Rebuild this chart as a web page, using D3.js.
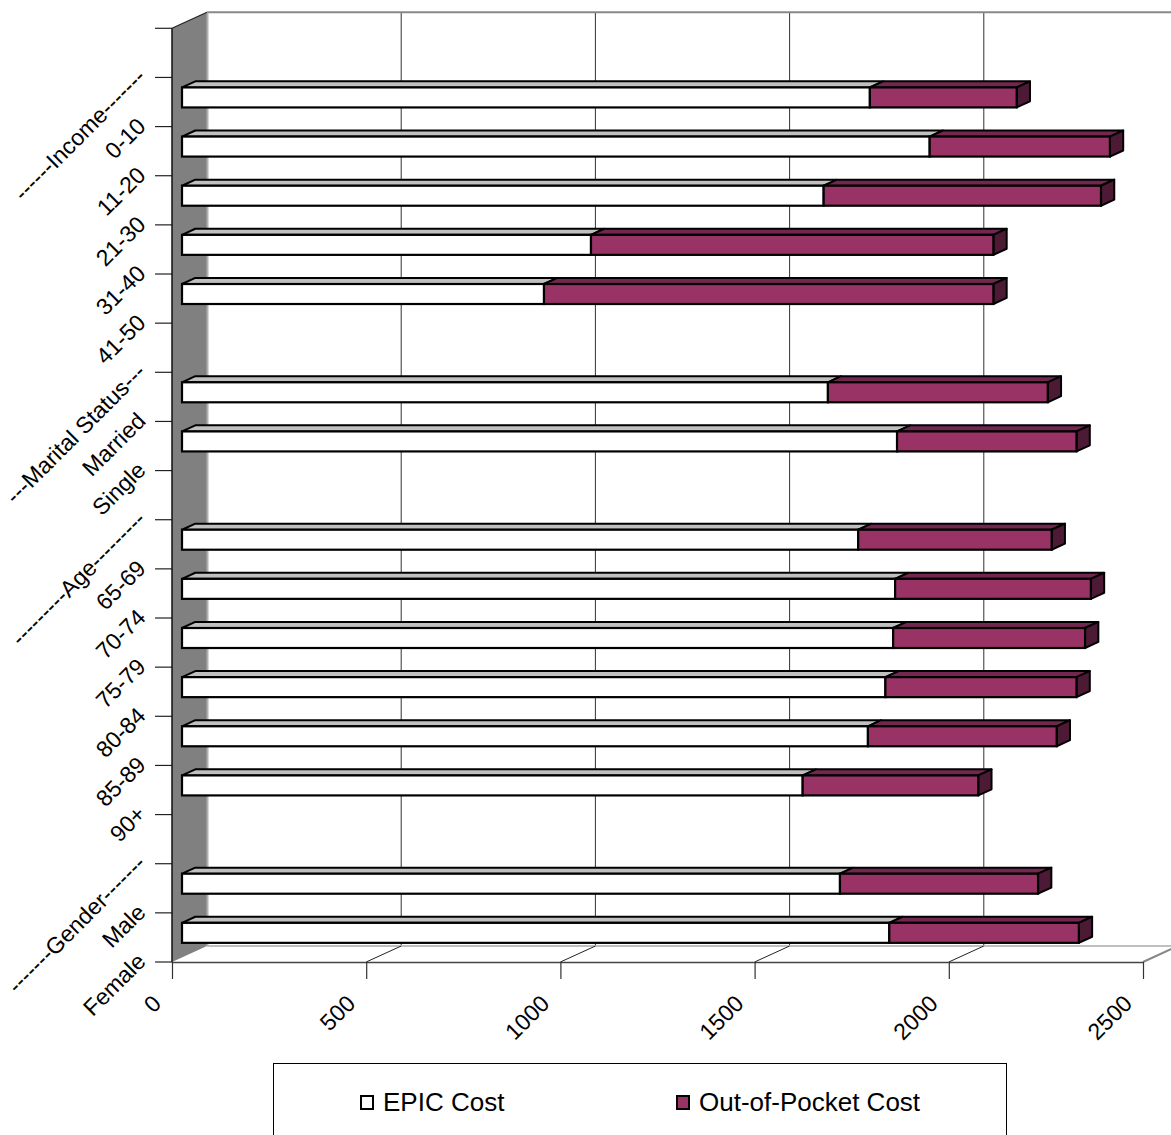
<!DOCTYPE html>
<html>
<head>
<meta charset="utf-8">
<script src="https://cdn.jsdelivr.net/npm/d3@7"></script>
<style>
  html, body { margin: 0; padding: 0; background: #fff; }
  svg { display: block; font-family: "Liberation Sans", Arial, sans-serif; }
</style>
</head>
<body>
<svg id="chart" width="1171" height="1135"></svg>
<script>
// Categories, listed top to bottom; group headers carry no values
const categories = [
  "------Income-------", "0-10", "11-20", "21-30", "31-40", "41-50",
  "---Marital Status---", "Married", "Single",
  "---------Age---------", "65-69", "70-74", "75-79", "80-84", "85-89", "90+",
  "-------Gender-------", "Male", "Female"
];
const epicCost = [null, 1771, 1925, 1652, 1053, 932, null, 1663, 1841, null, 1741, 1836, 1831, 1811, 1766, 1598, null, 1694, 1821];
const outOfPocketCost = [null, 378, 464, 714, 1036, 1157, null, 566, 462, null, 498, 504, 494, 492, 486, 452, null, 510, 488];
const xTicks = [0, 500, 1000, 1500, 2000, 2500];
const seriesNames = ["EPIC Cost", "Out-of-Pocket Cost"];

const svg = d3.select("#chart");

// front plane scales
const x = d3.scaleLinear().domain([0, 2500]).range([172, 1143]);
const y = d3.scaleBand().domain(categories).range([28.3, 962]);

// oblique depth vector of the 3-D box
const DX = 35, DY = -16;
const proj = (v, yy, d) => [x(v) + d * DX, yy + d * DY];
const pts = arr => arr.map(p => p.join(",")).join(" ");

const yTop = y.range()[0], yBot = y.range()[1];
const labelSize = 23;

// back wall
svg.append("polygon")
  .attr("points", pts([proj(0, yTop, 1), proj(2500, yTop, 1), proj(2500, yBot, 1), proj(0, yBot, 1)]))
  .attr("fill", "#fff").attr("stroke", "none");

// vertical gridlines on the back wall
svg.append("g").selectAll("line").data(xTicks.slice(1)).join("line")
  .attr("x1", d => proj(d, yTop, 1)[0]).attr("y1", proj(0, yTop, 1)[1])
  .attr("x2", d => proj(d, yBot, 1)[0]).attr("y2", proj(0, yBot, 1)[1])
  .attr("stroke", "#333").attr("stroke-width", 1);

// back wall top edge
svg.append("line")
  .attr("x1", proj(0, yTop, 1)[0]).attr("y1", proj(0, yTop, 1)[1])
  .attr("x2", proj(2500, yTop, 1)[0] + 10).attr("y2", proj(0, yTop, 1)[1])
  .attr("stroke", "#888").attr("stroke-width", 2);

// floor
svg.append("polygon")
  .attr("points", pts([proj(0, yBot, 0), proj(0, yBot, 1), proj(2500, yBot, 1), proj(2500, yBot, 0)]))
  .attr("fill", "#fff").attr("stroke", "none");
svg.append("line")
  .attr("x1", proj(0, yBot, 1)[0]).attr("y1", proj(0, yBot, 1)[1])
  .attr("x2", proj(2500, yBot, 1)[0]).attr("y2", proj(2500, yBot, 1)[1])
  .attr("stroke", "#c0c0c0").attr("stroke-width", 2);
svg.append("g").selectAll("line").data(xTicks.slice(1, -1)).join("line")
  .attr("x1", d => proj(d, yBot, 0)[0]).attr("y1", yBot)
  .attr("x2", d => proj(d, yBot, 1)[0]).attr("y2", proj(0, yBot, 1)[1])
  .attr("stroke", "#222").attr("stroke-width", 1);
svg.append("line")
  .attr("x1", proj(2500, yBot, 0)[0]).attr("y1", yBot)
  .attr("x2", proj(2500, yBot, 1.4)[0]).attr("y2", proj(2500, yBot, 1.4)[1])
  .attr("stroke", "#888").attr("stroke-width", 2);

// left side wall
svg.append("polygon")
  .attr("points", pts([proj(0, yTop, 0), proj(0, yTop, 1), proj(0, yBot, 1), proj(0, yBot, 0)]))
  .attr("fill", "#808080").attr("stroke", "none");
svg.append("line")
  .attr("x1", proj(0, yTop, 1)[0] + 0.5).attr("y1", proj(0, yTop, 1)[1])
  .attr("x2", proj(0, yBot, 1)[0] + 0.5).attr("y2", proj(0, yBot, 1)[1])
  .attr("stroke", "#b0b0b0").attr("stroke-width", 2);
svg.append("line")
  .attr("x1", proj(0, yTop, 0)[0]).attr("y1", yTop)
  .attr("x2", proj(0, yTop, 1)[0]).attr("y2", proj(0, yTop, 1)[1])
  .attr("stroke", "#222").attr("stroke-width", 1.2);

// category axis: ticks on band boundaries
const yBounds = categories.map(c => y(c)).concat([yBot]);
svg.append("g").selectAll("line").data(yBounds).join("line")
  .attr("x1", x(0) - 17).attr("x2", x(0))
  .attr("y1", d => d).attr("y2", d => d)
  .attr("stroke", "#222").attr("stroke-width", 1.2);
svg.append("line")
  .attr("x1", x(0)).attr("x2", x(0)).attr("y1", yTop).attr("y2", yBot)
  .attr("stroke", "#111").attr("stroke-width", 1.5);

svg.append("g").selectAll("text").data(categories).join("text")
  .attr("text-anchor", "end")
  .attr("font-size", labelSize)
  .attr("fill", "#000")
  .attr("transform", c => `translate(${x(0) - 25},${y(c) + y.bandwidth() + 1}) rotate(-45)`)
  .text(c => c);

// value axis along the front floor edge
const xAxis = d3.axisBottom(x).tickValues(xTicks).tickSize(17).tickSizeOuter(0).tickFormat(d3.format("d"));
const gx = svg.append("g").attr("transform", `translate(0,${yBot})`).call(xAxis);
gx.select(".domain").attr("stroke", "#444").attr("stroke-width", 1.5);
gx.selectAll(".tick line").attr("stroke", "#333").attr("stroke-width", 1.2);
gx.selectAll(".tick text")
  .attr("x", null).attr("y", null).attr("dy", null)
  .attr("text-anchor", "end")
  .attr("font-size", labelSize)
  .attr("font-family", "Liberation Sans, Arial, sans-serif")
  .attr("fill", "#000")
  .attr("transform", "translate(-10,43) rotate(-45)");

// stacked 3-D bars
const barFront = 0.286, barDepth = 0.38, barHalf = 10;
const colors = [
  { front: "#ffffff", top: "#c0c0c0", side: "#808080" },
  { front: "#993366", top: "#732650", side: "#4d1a36" }
];
const rows = categories.map((c, i) => ({ c, vals: [epicCost[i], outOfPocketCost[i]] }))
  .filter(r => r.vals[0] != null);

const barG = svg.append("g");
rows.forEach(r => {
  const yc = y(r.c) + y.bandwidth() / 2;
  let v0 = 0;
  const segs = r.vals.map((v, k) => { const s = { v0, v1: v0 + v, k }; v0 += v; return s; });
  const g = barG.append("g");
  segs.forEach(s => {
    const col = colors[s.k];
    g.append("polygon")
      .attr("points", pts([proj(s.v0, yc - barHalf, barFront), proj(s.v1, yc - barHalf, barFront),
                           proj(s.v1, yc - barHalf, barFront + barDepth), proj(s.v0, yc - barHalf, barFront + barDepth)]))
      .attr("fill", col.top).attr("stroke", "#000").attr("stroke-width", 2).attr("stroke-linejoin", "round");
  });
  const last = segs[segs.length - 1];
  g.append("polygon")
    .attr("points", pts([proj(last.v1, yc - barHalf, barFront), proj(last.v1, yc - barHalf, barFront + barDepth),
                         proj(last.v1, yc + barHalf, barFront + barDepth), proj(last.v1, yc + barHalf, barFront)]))
    .attr("fill", colors[last.k].side).attr("stroke", "#000").attr("stroke-width", 2).attr("stroke-linejoin", "round");
  segs.forEach(s => {
    const a = proj(s.v0, yc - barHalf, barFront), b = proj(s.v1, yc + barHalf, barFront);
    g.append("rect")
      .attr("x", a[0]).attr("y", a[1]).attr("width", b[0] - a[0]).attr("height", b[1] - a[1])
      .attr("fill", colors[s.k].front).attr("stroke", "#000").attr("stroke-width", 2.2);
  });
});

// legend
const lg = svg.append("g");
lg.append("rect").attr("x", 273.5).attr("y", 1063.5).attr("width", 733).attr("height", 90)
  .attr("fill", "#fff").attr("stroke", "#000").attr("stroke-width", 1);
const legendX = [361, 677];
seriesNames.forEach((name, i) => {
  lg.append("rect").attr("x", legendX[i]).attr("y", 1096).attr("width", 12).attr("height", 13)
    .attr("fill", colors[i].front).attr("stroke", "#000").attr("stroke-width", 2);
  lg.append("text").attr("x", legendX[i] + 22).attr("y", 1111)
    .attr("font-size", 26).attr("fill", "#000").text(name);
});
</script>
</body>
</html>
